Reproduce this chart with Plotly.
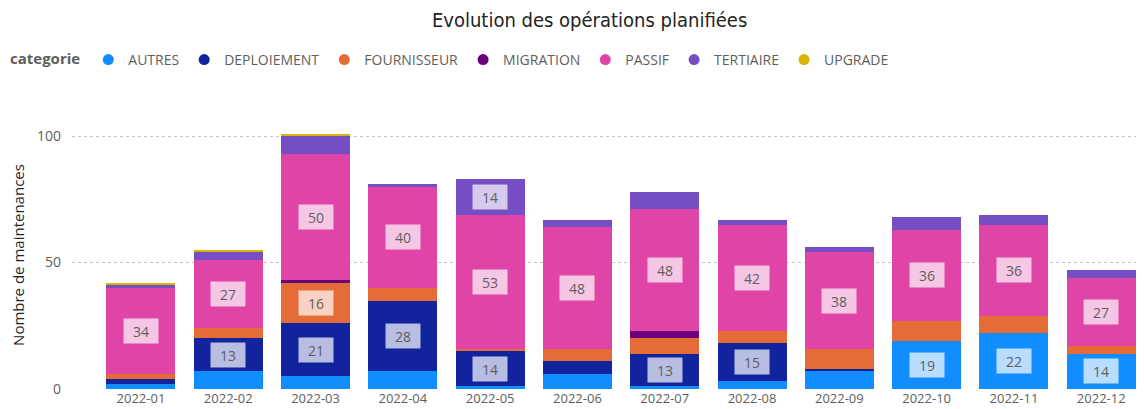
import plotly.graph_objects as go

months = ["2022-01", "2022-02", "2022-03", "2022-04", "2022-05", "2022-06",
          "2022-07", "2022-08", "2022-09", "2022-10", "2022-11", "2022-12"]

autres      = [2, 7, 5, 7, 1, 6, 1, 3, 7, 19, 22, 14]
deploiement = [2, 13, 21, 28, 14, 5, 13, 15, 1, 0, 0, 0]
fournisseur = [2, 4, 16, 5, 1, 5, 6, 5, 8, 8, 7, 3]
migration   = [0, 0, 1, 0, 0, 0, 3, 0, 0, 0, 0, 0]
passif      = [34, 27, 50, 40, 53, 48, 48, 42, 38, 36, 36, 27]
tertiaire   = [1, 3, 7, 1, 14, 3, 7, 2, 2, 5, 4, 3]
upgrade     = [1, 1, 1, 0, 0, 0, 0, 0, 0, 0, 0, 0]

series_names = ["AUTRES", "DEPLOIEMENT", "FOURNISSEUR", "MIGRATION", "PASSIF", "TERTIAIRE", "UPGRADE"]
series_values = [autres, deploiement, fournisseur, migration, passif, tertiaire, upgrade]
colors = ["#118DFF", "#12239E", "#E66C37", "#6B007B", "#E044A7", "#744EC2", "#D9B300"]

label_threshold = 13

fig = go.Figure()
base = [0] * len(months)
annotations = []
for name, vals, col in zip(series_names, series_values, colors):
    fig.add_trace(go.Bar(
        x=months, y=vals, name=name, marker=dict(color=col, line=dict(width=0)),
        showlegend=False, hovertemplate="%{x}<br>" + name + ": %{y}<extra></extra>"))
    # legend entry with circle marker
    fig.add_trace(go.Scatter(
        x=[months[0]], y=[None], mode="markers", name=name,
        marker=dict(color=col, size=11, symbol="circle")))
    for i, v in enumerate(vals):
        if v >= label_threshold:
            annotations.append(dict(
                x=months[i], y=base[i] + v / 2, xref="x", yref="y",
                text=str(v), showarrow=False,
                font=dict(size=14, color="#605E5C", family="Segoe UI, Open Sans, sans-serif"),
                bgcolor="rgba(255,255,255,0.7)", borderpad=3, width=28, height=18))
    base = [b + v for b, v in zip(base, vals)]

# page body adds an 8px margin, so the figure is sized to fill the rest of the window
fig.update_layout(
    barmode="stack",
    bargap=0.21,
    width=1136, height=401,
    margin=dict(l=64, r=0, t=113, b=20, autoexpand=False),
    paper_bgcolor="white", plot_bgcolor="white",
    title=dict(text="Evolution des opérations planifiées",
               x=0.512, xanchor="center", y=0.970, yanchor="middle", xref="container",
               font=dict(size=20, color="#252423", family="DejaVu Sans Condensed, Roboto, sans-serif")),
    legend=dict(orientation="h", x=0.0, xanchor="left", xref="container",
                y=1 - 36 / 401, yanchor="top", yref="container",
                title=dict(text="<b>categorie</b>", side="left",
                           font=dict(size=15, color="#605E5C", family="Segoe UI, Open Sans, sans-serif")),
                font=dict(size=14, color="#605E5C", family="Segoe UI, Open Sans, sans-serif"),
                itemwidth=30, traceorder="normal", tracegroupgap=0),
    annotations=annotations,
    font=dict(family="Segoe UI, Open Sans, sans-serif"),
)
fig.update_xaxes(type="category", range=[-0.79, 11.49], showgrid=False, showline=False, ticks="",
                 tickfont=dict(size=13, color="#605E5C"))
fig.update_yaxes(range=[0, 106], dtick=50, showgrid=True, gridcolor="#C8C6C4", griddash="dot",
                 gridwidth=1, zeroline=False, showline=False, ticks="", ticklabelstandoff=10,
                 tickfont=dict(size=14, color="#605E5C"),
                 title=dict(text="Nombre de maintenances", standoff=14,
                            font=dict(size=15, color="#252423")))

fig.write_html("out.html")
